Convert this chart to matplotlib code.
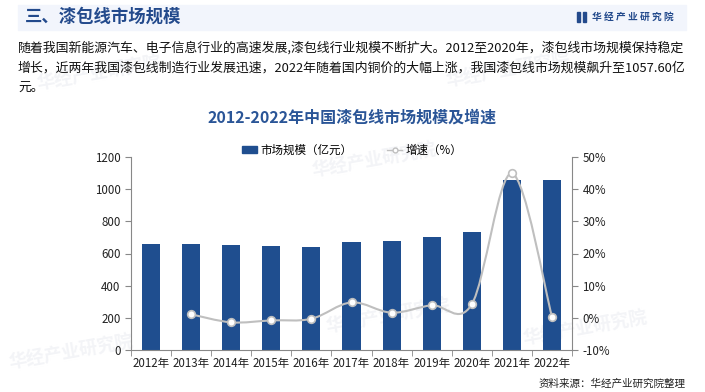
import numpy as np
import matplotlib.pyplot as plt
from matplotlib.path import Path
from matplotlib.patches import PathPatch, Rectangle
from matplotlib.lines import Line2D
from matplotlib.ticker import FuncFormatter, FixedLocator

plt.rcParams['font.family'] = ['Noto Sans CJK SC', 'DejaVu Sans']

years = ['2012年', '2013年', '2014年', '2015年', '2016年', '2017年',
         '2018年', '2019年', '2020年', '2021年', '2022年']
scale = [659, 658, 653, 647, 640, 671, 678, 703, 734, 1057, 1057.6]
growth = [None, 1.1, -1.4, -0.8, -0.3, 4.8, 1.6, 3.9, 4.2, 44.9, 0.4]

bar_color = '#1f4e8f'
line_color = '#bfbfbf'
title_blue = '#234a8c'

fig = plt.figure(figsize=(7.05, 3.92), dpi=100)

# header band
fig.patches.append(Rectangle((18 / 705, 1 - 30 / 392), 668 / 705, 25 / 392,
                             transform=fig.transFigure, color='#f2f5fc', zorder=0))
fig.text(25 / 705, 1 - 17 / 392, '三、漆包线市场规模', fontsize=12.5, fontweight='bold',
         color=title_blue, va='center', ha='left')
fig.patches.append(Rectangle((577 / 705, 1 - 22 / 392), 3 / 705, 10 / 392,
                             transform=fig.transFigure, color=title_blue))
fig.patches.append(Rectangle((583 / 705, 1 - 22 / 392), 3 / 705, 10 / 392,
                             transform=fig.transFigure, color=title_blue))
fig.text(592 / 705, 1 - 17 / 392, '华 经 产 业 研 究 院', fontsize=7, fontweight='bold',
         color=title_blue, va='center', ha='left')

# paragraph
para = ['随着我国新能源汽车、电子信息行业的高速发展,漆包线行业规模不断扩大。2012至2020年，漆包线市场规模保持稳定',
        '增长，近两年我国漆包线制造行业发展迅速，2022年随着国内铜价的大幅上涨，我国漆包线市场规模飙升至1057.60亿',
        '元。']
for i, line in enumerate(para):
    fig.text(18 / 705, 1 - (48 + 20 * i) / 392, line, fontsize=9.3, color='#111111',
             va='center', ha='left')

# faint watermarks, behind the chart
for wx, wy in [(0.63, 0.78), (0.05, 0.77), (0.44, 0.55), (0.74, 0.12), (0.46, 0.15), (0.01, 0.06)]:
    fig.text(wx, wy, '华经产业研究院', fontsize=13, fontweight='bold', color='#f3f4f7',
             rotation=10, zorder=-1)

fig.text(0.5, 1 - 118 / 392, '2012-2022年中国漆包线市场规模及增速', fontsize=11.5,
         fontweight='bold', color='#2a5597', ha='center', va='center')

ax = fig.add_axes([131 / 705, 42 / 392, 441 / 705, 193 / 392])
ax.set_zorder(2)
ax.patch.set_alpha(0)
x = np.arange(len(years))
ax.bar(x, scale, width=0.45, color=bar_color, zorder=2)
ax.set_xlim(-0.5, len(years) - 0.5)
ax.set_ylim(0, 1200)
ax.set_yticks(range(0, 1201, 200))
ax.set_xticks(x)
ax.set_xticklabels(years)
ax.xaxis.set_minor_locator(FixedLocator(np.arange(-0.5, len(years), 1)))
ax.tick_params(axis='x', which='major', length=0, labelsize=8.3, pad=5, colors='#222222')
ax.tick_params(axis='x', which='minor', length=4, color='#888888')
ax.tick_params(axis='y', length=4, color='#888888', labelsize=8.3, labelcolor='#222222')
for s in ['top', 'right']:
    ax.spines[s].set_visible(False)
for s in ['left', 'bottom']:
    ax.spines[s].set_color('#888888')

ax2 = ax.twinx()
ax2.set_zorder(3)
ax2.patch.set_alpha(0)
ax2.set_ylim(-10, 50)
ax2.set_yticks(range(-10, 51, 10))
ax2.yaxis.set_major_formatter(FuncFormatter(lambda v, p: '%d%%' % v))
ax2.tick_params(axis='y', length=4, color='#888888', labelsize=8.3, labelcolor='#222222')
for s in ['top', 'left', 'bottom']:
    ax2.spines[s].set_visible(False)
ax2.spines['right'].set_color('#888888')

# smooth growth curve (Catmull-Rom as cubic bezier segments)
gx = np.array([i for i, g in enumerate(growth) if g is not None], dtype=float)
gy = np.array([g for g in growth if g is not None], dtype=float)
pts = np.column_stack([gx, gy])
verts = [tuple(pts[0])]
codes = [Path.MOVETO]
n = len(pts)
for i in range(n - 1):
    p0 = pts[i - 1] if i > 0 else pts[i]
    p1, p2 = pts[i], pts[i + 1]
    p3 = pts[i + 2] if i + 2 < n else pts[i + 1]
    c1 = p1 + (p2 - p0) / 6
    c2 = p2 - (p3 - p1) / 6
    verts += [tuple(c1), tuple(c2), tuple(p2)]
    codes += [Path.CURVE4] * 3
ax2.add_patch(PathPatch(Path(verts, codes), fill=False, edgecolor=line_color, lw=1.5, zorder=3))
ax2.plot(gx, gy, ls='none', marker='o', ms=5.5, mfc='white', mec=line_color, mew=1.2, zorder=4)

handles = [Rectangle((0, 0), 1, 1, color=bar_color),
           Line2D([], [], color=line_color, lw=1, marker='o', ms=3.5, mfc='white', mec=line_color)]
fig.legend(handles, ['市场规模（亿元）', '增速（%）'], loc='center', ncol=2,
           bbox_to_anchor=(0.5, 1 - 150 / 392), frameon=False, fontsize=8.3,
           handlelength=1.3, handleheight=0.6, columnspacing=3, handletextpad=0.3)

fig.text(686 / 705, 1 - 384 / 392, '资料来源：华经产业研究院整理', fontsize=7.6, color='#222222',
         ha='right', va='center')

fig.savefig('out.png', dpi=100)
